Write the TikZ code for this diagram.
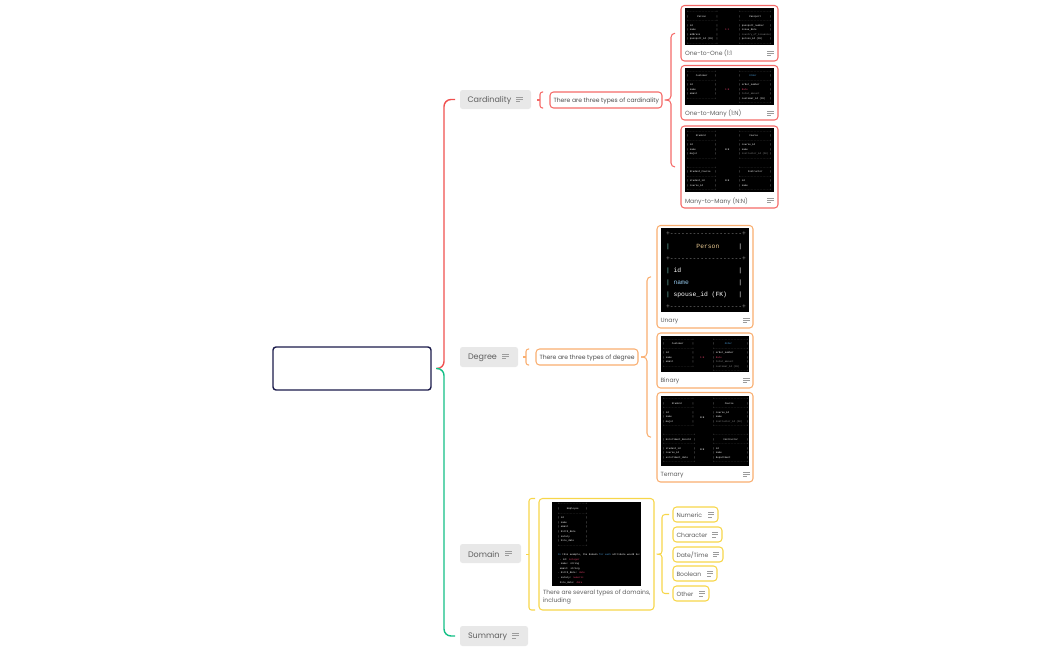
\documentclass[tikz,border=0pt]{standalone}
\usepackage{fontspec}
\setmainfont{Poppins}
\newfontfamily\tb{Liberation Mono}
\definecolor{navy}{HTML}{1B1B4B}
\definecolor{cred}{HTML}{F0504F}
\definecolor{credl}{HTML}{F56A68}
\definecolor{cgreen}{HTML}{12BF85}
\definecolor{corange}{HTML}{F9AE70}
\definecolor{cyellow}{HTML}{F7D64A}
\definecolor{pill}{HTML}{E8E8E8}
\definecolor{txt}{HTML}{5F5F5F}
\definecolor{dim}{HTML}{8A8A8A}
\definecolor{micon}{HTML}{9C9C9C}
\definecolor{kbar}{HTML}{D8D8D8}
\definecolor{kred}{HTML}{E0406A}
\definecolor{kblue}{HTML}{4FA3E0}
\definecolor{kteal}{HTML}{7FD8C8}
\definecolor{ksand}{HTML}{E8C890}
\tikzset{
  rootbox/.style={draw=navy,line width=1.4pt,rounded corners=3pt,fill=white},
  pillbox/.style={fill=pill,rounded corners=2.5pt},
  cardbox/.style={draw=#1,line width=1.05pt,rounded corners=3.5pt,fill=white},
  thumbbox/.style={fill=black},
  lab/.style={inner sep=0pt,outer sep=0pt,text=txt,anchor=west,yshift=-.7pt},
  mainlab/.style={lab,font=\fontsize{8.0}{10}\selectfont},
  smalllab/.style={lab,font=\fontsize{6.05}{8}\selectfont},
  tiny/.style={inner sep=0pt,outer sep=0pt,anchor=north west,align=left,text=white,font=\tb\fontsize{2.45}{4.5}\selectfont},
  conn/.style={draw=#1,line width=1.05pt,rounded corners=4pt},
  trunk/.style={draw=#1,line width=1.4pt,rounded corners=7pt,shorten <=5pt,shorten >=5pt},
  menu/.style={draw=micon,line width=.7pt},
}
\newcommand\bx[6]{\node[#6,anchor=north west,inner sep=0pt,outer sep=0pt,minimum width={(#4-#2)*1pt},minimum height={(#5-#3)*1pt}] (#1) at (#2,#3) {};}
\newcommand\menuicon[3]{\draw[menu] (#1,#2) -- +(#3,0) (#1,#2+2.2) -- +(#3,0) (#1,#2+4.4) -- +(#3*.6,0);}
\newcommand\Dx[1]{\ifnum#1>0 -\expandafter\Dx\expandafter{\the\numexpr#1-1\relax}\fi}
\newcommand\Dl[1]{\textcolor{dim}{+\Dx{#1}+}}
\newcommand\Rw[2]{\textcolor{kbar}{|}~\makebox[\dimexpr#1em*6/10\relax][l]{#2}\textcolor{kbar}{|}}
\newcommand\kr[1]{\textcolor{kred}{#1}}
\newcommand\kb[1]{\textcolor{kblue}{#1}}
\newcommand\kd[1]{\textcolor{dim}{#1}}
\begin{document}
\begin{tikzpicture}[x=1pt,y=-1pt]
\useasboundingbox (0,0) rectangle (1050,651);
% topics
\bx{root}{273}{347}{431}{390}{rootbox}
\bx{card}{460}{90}{531}{109}{pillbox}
\bx{degr}{460}{347}{518}{367}{pillbox}
\bx{doma}{460}{544}{521}{563}{pillbox}
\bx{summ}{460}{626}{528}{646}{pillbox}
\node[mainlab] (cardT) at (467.5,100) {Cardinality};
\node[mainlab] (degrT) at (468,357) {Degree};
\node[mainlab] (domaT) at (468,553.5) {Domain};
\node[mainlab] (summT) at (468,636) {Summary};
\menuicon{516}{97}{7}
\menuicon{502}{354}{7}
\menuicon{505}{551}{7}
\menuicon{512}{633.5}{7}
% notes
\bx{ncard}{550}{92}{662}{108}{cardbox=credl}
\bx{ndegr}{536}{349}{638}{365}{cardbox=corange}
\node[smalllab,text=black!70] (ncardT) at (553.5,100) {There are three types of cardinality};
\node[smalllab,text=black!70] (ndegrT) at (539.5,357) {There are three types of degree};
% main tree
\draw[trunk=cred] (root.east) -- ([xshift=13pt]root.east) |- (card.west);
\draw[trunk=cgreen] (root.east) -- ([xshift=13pt]root.east) |- (summ.west);
% small braces
\draw[conn=credl,rounded corners=2.5pt] ([xshift=-7pt]ncard.north west) -- ([xshift=-10pt]ncard.north west) -- ([xshift=-10pt]ncard.south west) -- ([xshift=-7pt]ncard.south west);
\draw[credl,line width=1.05pt] ([xshift=-13pt]ncard.west) -- ([xshift=-10pt]ncard.west);
\draw[conn=corange,rounded corners=2.5pt] ([xshift=-7pt]ndegr.north west) -- ([xshift=-10pt]ndegr.north west) -- ([xshift=-10pt]ndegr.south west) -- ([xshift=-7pt]ndegr.south west);
\draw[corange,line width=1.05pt] ([xshift=-13pt]ndegr.west) -- ([xshift=-10pt]ndegr.west);
% cardinality cards
\bx{c1}{681}{5.5}{778}{61}{cardbox=credl}
\bx{c2}{681}{65.5}{778}{120}{cardbox=credl}
\bx{c3}{681}{126}{778}{208}{cardbox=credl}
\bx{t1}{685}{8}{774}{45}{thumbbox}
\bx{t2}{685}{68}{774}{105}{thumbbox}
\bx{t3}{685}{128}{774}{192}{thumbbox}
\node[smalllab] (c1T) at (685,53) {One-to-One (1:1};
\node[smalllab] (c2T) at (685,113) {One-to-Many (1:N)};
\node[smalllab] (c3T) at (685,200.5) {Many-to-Many (N:N)};
\menuicon{767}{51}{6.5}
\menuicon{767}{111}{6.5}
\menuicon{767}{198}{6.5}
\draw[conn=credl,shorten <=6pt,shorten >=6pt] (ncard.east) -- ([xshift=9pt]ncard.east) |- (c1.west);
\draw[conn=credl,shorten <=6pt,shorten >=6pt] (ncard.east) -- ([xshift=9pt]ncard.east) |- (c3.west);
% thumb 1
\node[tiny] (t1l) at (687,11.5) {\Dl{19}\\\Rw{18}{~~~~~Person}\\\Dl{19}\\\Rw{18}{id}\\\Rw{18}{name}\\\Rw{18}{address}\\\Rw{18}{passport\_id (FK)}\\\Dl{19}};
\node[tiny] (t1r) at (739,11.5) {\Dl{20}\\\Rw{19}{~~~~~Passport}\\\Dl{20}\\\Rw{19}{passport\_number}\\\Rw{19}{issue\_date}\\\kd{|~country\_of\_issuance|}\\\Rw{19}{person\_id (FK)}\\\Dl{20}};
\node[tiny,text=kred] (t1c) at (725,29) {1:1};
% thumb 2
\node[tiny] (t2l) at (687,71) {\Dl{18}\\\Rw{17}{~~~~Customer}\\\Dl{18}\\\Rw{17}{id}\\\Rw{17}{name}\\\Rw{17}{email}\\\Dl{18}};
\node[tiny] (t2r) at (739,71) {\Dl{20}\\\Rw{19}{~~~~~\kb{Order}}\\\Dl{20}\\\Rw{19}{order\_number}\\\Rw{19}{\kr{date}}\\\Rw{19}{\kd{total\_amount}}\\\Rw{19}{customer\_id (FK)}\\\Dl{20}};
\node[tiny,text=kred] (t2c) at (725,88.5) {1:N};
% thumb 3
\node[tiny] (t3l) at (687,131) {\Dl{18}\\\Rw{17}{~~~~Student}\\\Dl{18}\\\Rw{17}{id}\\\Rw{17}{name}\\\Rw{17}{major}\\\Dl{18}\\~\\\Dl{18}\\\Rw{17}{Student\_Course}\\\Dl{18}\\\Rw{17}{student\_id}\\\Rw{17}{course\_id}\\\Dl{18}};
\node[tiny] (t3r) at (739,131) {\Dl{20}\\\Rw{19}{~~~~~Course}\\\Dl{20}\\\Rw{19}{course\_id}\\\Rw{19}{name}\\\Rw{19}{\kd{instructor\_id (FK)}}\\\Dl{20}\\~\\\Dl{20}\\\Rw{19}{~~~~Instructor}\\\Dl{20}\\\Rw{19}{id}\\\Rw{19}{name}\\\Dl{20}};
\node[tiny] (t3c) at (725,148.5) {N:N};
\node[tiny] (t3d) at (725,180) {N:N};
% degree cards
\bx{d1}{657}{225.5}{753}{328}{cardbox=corange}
\bx{d2}{657}{333}{753}{388}{cardbox=corange}
\bx{d3}{657}{392.5}{753}{482}{cardbox=corange}
\bx{t4}{661}{228}{749}{312}{thumbbox}
\bx{t5}{661}{336}{749}{372}{thumbbox}
\bx{t6}{661}{396}{749}{466}{thumbbox}
\node[smalllab] (d1T) at (660.5,320.5) {Unary};
\node[smalllab] (d2T) at (660.5,380.5) {Binary};
\node[smalllab] (d3T) at (660.5,474) {Ternary};
\menuicon{743}{318}{6.5}
\menuicon{743}{378}{6.5}
\menuicon{743}{472}{6.5}
\draw[conn=corange,shorten <=3pt,shorten >=6pt] (ndegr.east) -- ([xshift=9pt]ndegr.east) |- (d1.west);
\draw[conn=corange,shorten <=3pt,shorten >=6pt] (ndegr.east) -- ([xshift=9pt]ndegr.east) |- (d3.west);
% thumb 4 (unary)
\node[tiny,font=\tb\fontsize{6.35}{12.1}\selectfont] (t4l) at (666,232.3) {\Dl{19}\\\textcolor{kteal}{|}~~~~~~~\textcolor{ksand}{Person}~~~~~|\\\Dl{19}\\\textcolor{kteal}{|}~id~~~~~~~~~~~~~~~|\\\textcolor{kteal}{|}~\textcolor{kblue!60}{name}~~~~~~~~~~~~~|\\\textcolor{kteal}{|}~spouse\_id (FK)~~~|\\\Dl{19}};
% thumb 5
\node[tiny] (t5l) at (663,339) {\Dl{19}\\\Rw{18}{~~~~Customer}\\\Dl{19}\\\Rw{18}{id}\\\Rw{18}{name}\\\Rw{18}{email}\\\Dl{19}};
\node[tiny] (t5r) at (713,339) {\Dl{22}\\\Rw{21}{~~~~~~\kb{Order}}\\\Dl{22}\\\Rw{21}{order\_number}\\\Rw{21}{\kr{date}}\\\Rw{21}{\kd{total\_amount}}\\\Rw{21}{\kd{customer\_id (FK)}}\\\Dl{22}};
\node[tiny,text=kred] (t5c) at (700,356.5) {1:N};
% thumb 6
\node[tiny] (t6l) at (663,398.5) {\Dl{19}\\\Rw{18}{~~~~Student}\\\Dl{19}\\\Rw{18}{id}\\\Rw{18}{name}\\\Rw{18}{major}\\\Dl{19}\\~\\\Dl{20}\\\Rw{19}{Enrollment\_Record}\\\Dl{20}\\\Rw{19}{student\_id}\\\Rw{19}{course\_id}\\\Rw{19}{enrollment\_date}\\\Dl{20}};
\node[tiny] (t6r) at (713,398.5) {\Dl{22}\\\Rw{21}{~~~~~~Course}\\\Dl{22}\\\Rw{21}{course\_id}\\\Rw{21}{name}\\\Rw{21}{\kd{instructor\_id (FK)}}\\\Dl{22}\\~\\\Dl{22}\\\Rw{21}{~~~~~Instructor}\\\Dl{22}\\\Rw{21}{id}\\\Rw{21}{name}\\\Rw{21}{department}\\\Dl{22}};
\node[tiny] (t6c) at (700,416.5) {N:N};
\node[tiny] (t6d) at (700,449) {N:N};
% domain card
\bx{e0}{539}{498.5}{654}{610}{cardbox=cyellow}
\bx{t7}{552}{502}{641}{586}{thumbbox}
\node[tiny,font=\tb\fontsize{2.45}{4.6}\selectfont] (t7l) at (558,503.5) {\Dl{18}\\\Rw{17}{~~~~Employee}\\\Dl{18}\\\Rw{17}{id}\\\Rw{17}{name}\\\Rw{17}{email}\\\Rw{17}{birth\_date}\\\Rw{17}{salary}\\\Rw{17}{hire\_date}\\\Dl{18}\\~\\\kb{In} this example, the domain \kb{for each} attribute would be:\\~\,- id: \kr{integer}\\- name: string\\~\,email: string\\- birth\_date: \kr{date}\\- salary: \kr{numeric}\\~\,hire\_date: \kr{date}};
\node[lab,anchor=north west,align=left,font=\fontsize{6.05}{8}\selectfont] (e0T) at (543,589) {There are several types of domains,\\including};
% domain leaves
\bx{l1}{673}{507}{718}{522}{cardbox=cyellow}
\bx{l2}{673}{527}{722}{542}{cardbox=cyellow}
\bx{l3}{673}{547}{723}{562}{cardbox=cyellow}
\bx{l4}{673}{566}{717}{581}{cardbox=cyellow}
\bx{l5}{673}{586}{709}{601}{cardbox=cyellow}
\node[smalllab] (l1T) at (676.5,514.5) {Numeric};
\node[smalllab] (l2T) at (676.5,534.5) {Character};
\node[smalllab] (l3T) at (676.5,554) {Date/Time};
\node[smalllab] (l4T) at (676.5,573.5) {Boolean};
\node[smalllab] (l5T) at (676.5,593.5) {Other};
\menuicon{708}{512.5}{6}
\menuicon{712}{532.5}{6}
\menuicon{713}{552}{6}
\menuicon{707}{571.5}{6}
\menuicon{699}{591.5}{6}
% domain connectors
\draw[conn=cyellow,rounded corners=2.5pt] ([xshift=-4pt]e0.north west) -- ([xshift=-10pt]e0.north west) -- ([xshift=-10pt]e0.south west) -- ([xshift=-4pt]e0.south west);
\draw[cyellow,line width=1.05pt] ([xshift=-13pt]e0.west) -- ([xshift=-10pt]e0.west);
\draw[conn=cyellow,rounded corners=3pt,shorten <=6pt,shorten >=4pt] (e0.east) -- ([xshift=8pt]e0.east) |- (l1.west);
\draw[conn=cyellow,rounded corners=3pt,shorten <=6pt,shorten >=4pt] (e0.east) -- ([xshift=8pt]e0.east) |- (l5.west);
\end{tikzpicture}
\end{document}
